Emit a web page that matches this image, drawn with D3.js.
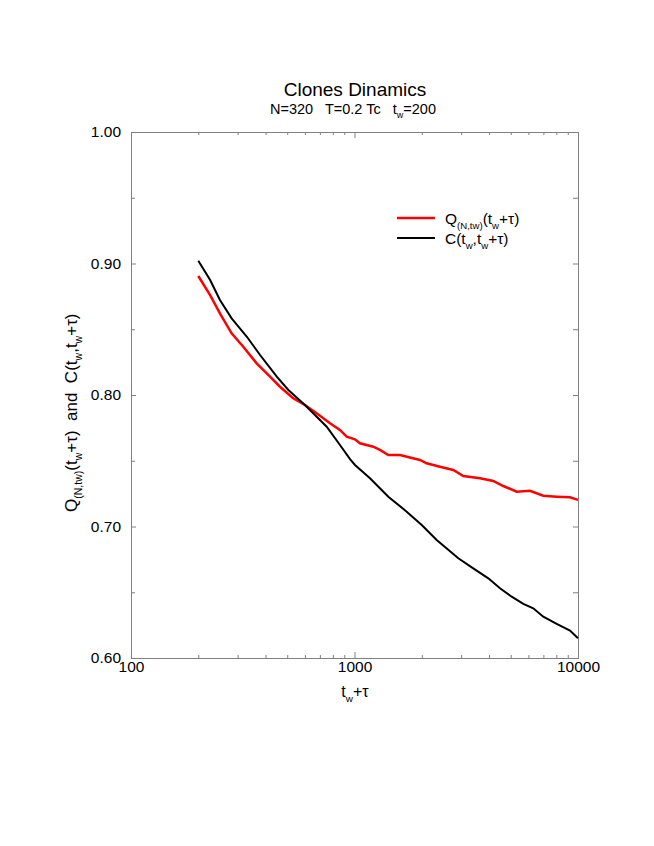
<!DOCTYPE html>
<html lang="en">
<head>
<meta charset="UTF-8">
<title>Clones Dinamics</title>
<script src="https://d3js.org/d3.v7.min.js"></script>
<style>
  body { margin: 0; background: #fff; }
  svg { font-family: "Liberation Sans", Arial, Helvetica, sans-serif; }
  .tick text { font-size: 15.5px; fill: #000; }
  .pre { white-space: pre; }
</style>
</head>
<body>
<svg id="chart" width="654" height="846"></svg>
<script>
// data
const qX = [200, 226, 250, 282, 318, 365, 419, 464, 532, 600, 677, 777, 861, 923, 1005, 1058, 1214, 1300, 1417, 1598, 1964, 2104, 2413, 2768, 3068, 3643, 4178, 4632, 5318, 6098, 6993, 8030, 9209, 10000];
const qY = [0.8905, 0.8760, 0.8621, 0.8469, 0.8367, 0.8241, 0.8139, 0.8063, 0.7975, 0.7924, 0.7861, 0.7785, 0.7734, 0.7683, 0.7663, 0.7633, 0.7607, 0.7582, 0.7544, 0.7544, 0.7506, 0.7481, 0.7455, 0.7430, 0.7384, 0.7367, 0.7346, 0.7308, 0.7265, 0.7272, 0.7234, 0.7227, 0.7222, 0.7202];
const cX = [200, 226, 250, 282, 330, 378, 449, 506, 600, 751, 861, 955, 1005, 1173, 1417, 1712, 1999, 2332, 2914, 3399, 3969, 4477, 5051, 5692, 6310, 6993, 8030, 9209, 10000];
const cY = [0.9021, 0.8875, 0.8722, 0.8583, 0.8443, 0.8304, 0.8139, 0.8038, 0.7924, 0.7759, 0.7620, 0.7513, 0.7468, 0.7367, 0.7227, 0.7113, 0.7011, 0.6897, 0.6758, 0.6682, 0.6606, 0.6530, 0.6466, 0.6411, 0.6378, 0.6314, 0.6259, 0.6208, 0.6150];

const xMajor = [100, 1000, 10000];
const xMinor = [200, 300, 400, 500, 600, 700, 800, 900, 2000, 3000, 4000, 5000, 6000, 7000, 8000, 9000];
const yMajor = [0.60, 0.70, 0.80, 0.90, 1.00];
const yMinor = [0.65, 0.75, 0.85, 0.95];

const plotL = 131, plotR = 578, plotT = 132, plotB = 658;

const svg = d3.select("#chart");

const x = d3.scaleLog().domain([100, 10000]).range([plotL, plotR]);
const y = d3.scaleLinear().domain([0.6, 1.0]).range([plotB, plotT]);

function styleAxis(g) {
    g.select(".domain").remove();
    g.selectAll(".tick line").attr("stroke", "#808080");
}

// left axis with labels
svg.append("g").attr("transform", `translate(${plotL},0)`)
    .call(d3.axisLeft(y).tickValues(yMajor).tickFormat(d3.format(".2f")).tickSize(-5).tickPadding(10))
    .call(styleAxis);
svg.append("g").attr("transform", `translate(${plotL},0)`)
    .call(d3.axisLeft(y).tickValues(yMinor).tickFormat("").tickSize(-4))
    .call(styleAxis);
// right axis, ticks only
svg.append("g").attr("transform", `translate(${plotR},0)`)
    .call(d3.axisRight(y).tickValues(yMajor.concat(yMinor)).tickFormat("").tickSize(-5))
    .call(styleAxis);

// bottom axis with labels
svg.append("g").attr("transform", `translate(0,${plotB})`)
    .call(d3.axisBottom(x).tickValues(xMajor).tickFormat(d3.format("d")).tickSize(-6).tickPadding(3))
    .call(styleAxis);
svg.append("g").attr("transform", `translate(0,${plotB})`)
    .call(d3.axisBottom(x).tickValues(xMinor).tickFormat("").tickSize(-3))
    .call(styleAxis);
// top axis, ticks only
svg.append("g").attr("transform", `translate(0,${plotT})`)
    .call(d3.axisTop(x).tickValues(xMajor).tickFormat("").tickSize(-6))
    .call(styleAxis);
svg.append("g").attr("transform", `translate(0,${plotT})`)
    .call(d3.axisTop(x).tickValues(xMinor).tickFormat("").tickSize(-3))
    .call(styleAxis);

// frame
svg.append("rect")
    .attr("x", plotL + 0.5).attr("y", plotT + 0.5)
    .attr("width", plotR - plotL).attr("height", plotB - plotT)
    .attr("fill", "none").attr("stroke", "#808080").attr("stroke-width", 1);

// curves
const line = d3.line().x(d => x(d[0])).y(d => y(d[1]));

svg.append("path")
    .datum(d3.zip(qX, qY))
    .attr("d", line)
    .attr("fill", "none").attr("stroke", "#ff0000").attr("stroke-width", 2.5);

svg.append("path")
    .datum(d3.zip(cX, cY))
    .attr("d", line)
    .attr("fill", "none").attr("stroke", "#000").attr("stroke-width", 2);

// helper to add text with subscripts: parts = [[text, sub?], ...]
function richText(el, parts, size) {
    let shifted = false;
    parts.forEach(([t, sub]) => {
        const ts = el.append("tspan").text(t);
        if (sub && !shifted) { ts.attr("dy", size * 0.3).attr("font-size", size * 0.62); shifted = true; }
        else if (sub) { ts.attr("font-size", size * 0.62); }
        else if (!sub && shifted) { ts.attr("dy", -size * 0.3); shifted = false; }
    });
}

// titles
svg.append("text").attr("x", 355).attr("y", 96).attr("text-anchor", "middle")
    .attr("font-size", 19).text("Clones Dinamics");

const sub = svg.append("text").attr("class", "pre").attr("x", 353).attr("y", 114).attr("text-anchor", "middle")
    .attr("font-size", 14.5);
richText(sub, [["N=320   T=0.2 Tc   t"], ["w", true], ["=200"]], 14.5);

// x axis title
const xt = svg.append("text").attr("x", 355).attr("y", 697).attr("text-anchor", "middle")
    .attr("font-size", 16);
richText(xt, [["t"], ["w", true], ["+\u03c4"]], 16);

// y axis title
const yt = svg.append("text").attr("class", "pre").attr("transform", "translate(77,512) rotate(-90)")
    .attr("text-anchor", "start").attr("font-size", 17);
richText(yt, [["Q"], ["(N,tw)", true], ["(t"], ["w", true], ["+\u03c4)  and  C(t"], ["w", true], [",t"], ["w", true], ["+\u03c4)"]], 17);

// legend
const legend = [
    { color: "#ff0000", width: 2.5, parts: [["Q"], ["(N,tw)", true], ["(t"], ["w", true], ["+\u03c4)"]] },
    { color: "#000", width: 2, parts: [["C(t"], ["w", true], [",t"], ["w", true], ["+\u03c4)"]] }
];
legend.forEach((d, i) => {
    const ly = 218 + i * 20;
    svg.append("line").attr("x1", 397).attr("x2", 435).attr("y1", ly).attr("y2", ly)
        .attr("stroke", d.color).attr("stroke-width", d.width);
    const t = svg.append("text").attr("x", 445).attr("y", ly + 6).attr("font-size", 15.5);
    richText(t, d.parts, 15.5);
});
</script>
</body>
</html>
